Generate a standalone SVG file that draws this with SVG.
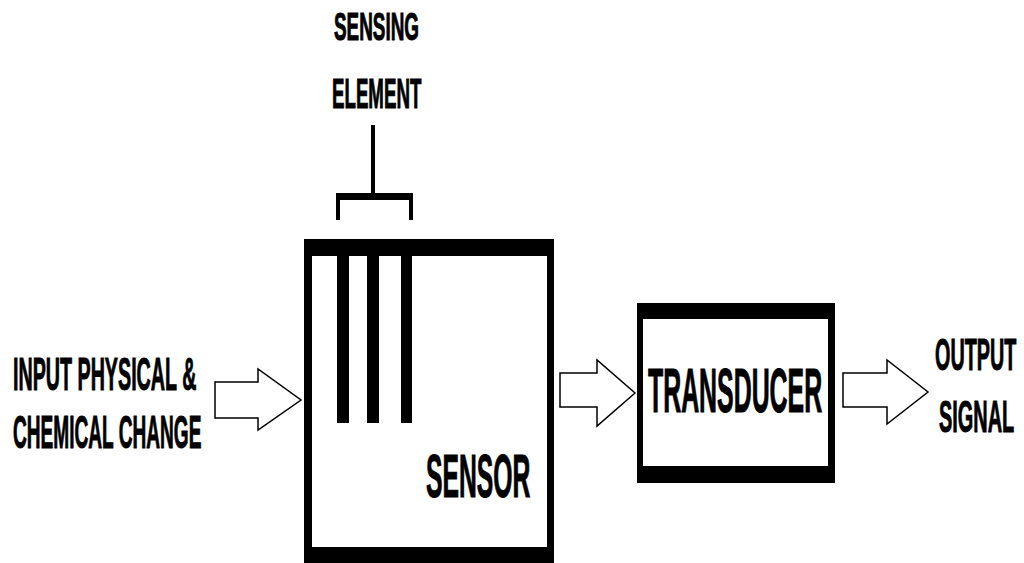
<svg xmlns="http://www.w3.org/2000/svg" width="1024" height="563" viewBox="0 0 1024 563">
<style>
.t{font-family:"Liberation Sans",Arial,sans-serif;font-weight:bold;fill:#000;stroke:#000;stroke-width:0.8;vector-effect:non-scaling-stroke}
.arr{fill:#fff;stroke:#000;stroke-width:1.5;stroke-linejoin:miter}
</style>
<rect width="1024" height="563" fill="#fff"/>
<g id="sensing-element">
<text class="t" font-size="38" transform="translate(334,40) scale(0.497,1)">SENSING</text>
<text class="t" font-size="43" transform="translate(332,108) scale(0.435,1)">ELEMENT</text>
<rect x="371" y="125" width="4" height="70" fill="#000"/>
<rect x="336" y="193" width="77" height="7" fill="#000"/>
<rect x="336" y="193" width="4" height="27" fill="#000"/>
<rect x="409" y="193" width="4" height="27" fill="#000"/>
</g>
<g id="sensor">
<path fill="#000" fill-rule="evenodd" d="M304 239H554V563H304Z M312 256V547H547V256Z"/>
<rect x="337" y="250" width="12" height="173" fill="#000"/>
<rect x="367" y="250" width="12" height="173" fill="#000"/>
<rect x="401" y="250" width="11" height="173" fill="#000"/>
<text class="t" font-size="61" transform="translate(426,497) scale(0.405,1)">SENSOR</text>
</g>
<g id="transducer">
<path fill="#000" fill-rule="evenodd" d="M637 303H835V483H637Z M643 319V466H828V319Z"/>
<text class="t" font-size="63" transform="translate(648,412) scale(0.395,1)">TRANSDUCER</text>
</g>
<g id="input-label">
<text class="t" font-size="46" transform="translate(13,390) scale(0.428,1)">INPUT PHYSICAL &amp;</text>
<text class="t" font-size="46" transform="translate(13,448) scale(0.415,1)">CHEMICAL CHANGE</text>
</g>
<g id="output-label">
<text class="t" font-size="45" transform="translate(935,370) scale(0.44,1)">OUTPUT</text>
<text class="t" font-size="45" transform="translate(939,432) scale(0.443,1)">SIGNAL</text>
</g>
<g id="connectors">
<polygon class="arr" points="215,382 258,382 258,369 301,400 258,430 258,418 215,418"/>
<polygon class="arr" points="560,373 597,373 597,360 635,393 597,426 597,407 560,407"/>
<polygon class="arr" points="843,373 887,373 887,360 928,392 887,424 887,407 843,407"/>
</g>
</svg>
